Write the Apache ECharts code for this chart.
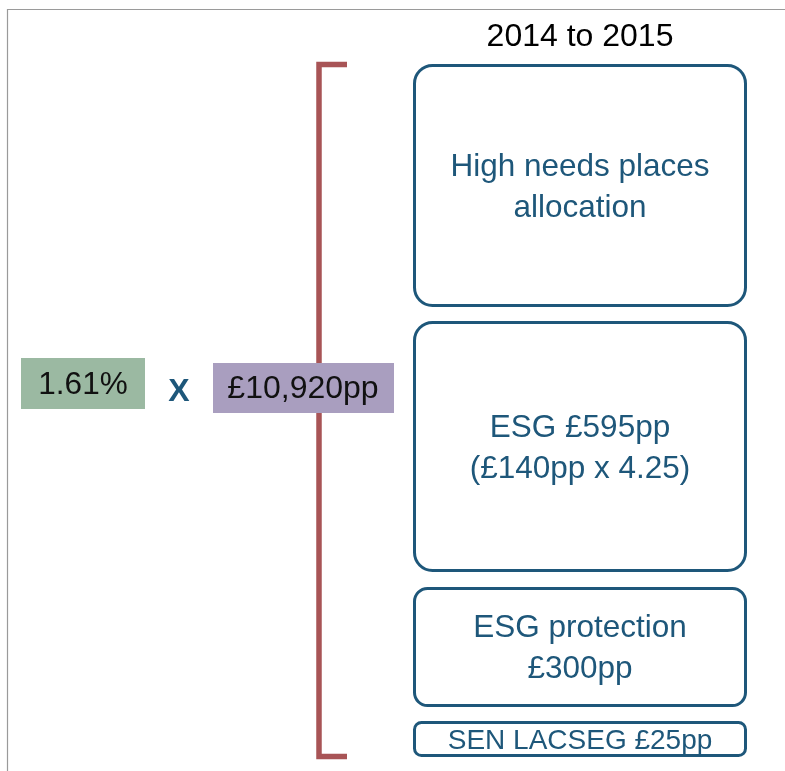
<!DOCTYPE html>
<html>
<head>
<meta charset="utf-8">
<script src="https://cdn.jsdelivr.net/npm/echarts@6/dist/echarts.min.js"></script>
<style>
  html, body { margin: 0; padding: 0; background: #fff; }
  #chart { width: 785px; height: 771px; }
</style>
</head>
<body>
<div id="chart"></div>
<script>
// content
const title = "2014 to 2015";
const rate = "1.61%";
const perPupil = "£10,920pp";
const boxLabels = [
  "High needs places\nallocation",
  "ESG £595pp\n(£140pp x 4.25)",
  "ESG protection\n£300pp",
  "SEN LACSEG £25pp"
];

// layout (pixels)
const boxTops = [64, 321, 587, 721];
const boxBottoms = [307, 572, 707, 757];
const boxRadius = [18, 18, 13, 7];
const boxFont = [31.5, 31.5, 31.5, 28];

const FONT = "'Liberation Sans', Arial, sans-serif";
const BLUE = "#1e577a";
const RED = "#a85456";

const myChart = echarts.init(document.getElementById("chart"), null, { renderer: "canvas" });

function build() {
  const g = [];

  // outer frame (top and left only)
  g.push({
    type: "polyline",
    shape: { points: [[7.5, 771], [7.5, 9.5], [785, 9.5]] },
    style: { stroke: "#9a9a9a", lineWidth: 1.2, fill: null }
  });

  // bracket
  g.push({
    type: "polyline",
    shape: { points: [[347, 64.5], [319, 64.5], [319, 756.5], [347, 756.5]] },
    style: { stroke: RED, lineWidth: 5.5, fill: null, lineJoin: "miter" }
  });

  // title
  g.push({
    type: "text",
    style: {
      text: title, x: 580, y: 37, align: "center", verticalAlign: "middle",
      fontSize: 32, fontFamily: FONT, fill: "#000"
    }
  });

  // boxes
  boxLabels.forEach(function (label, i) {
    const top = boxTops[i], bottom = boxBottoms[i];
    g.push({
      type: "rect",
      shape: { x: 414.5, y: top + 1.5, width: 331, height: bottom - top - 3, r: boxRadius[i] },
      style: { fill: "#fff", stroke: BLUE, lineWidth: 3 }
    });
    g.push({
      type: "text",
      style: {
        text: label, x: 580, y: (top + bottom) / 2 + 2, align: "center", verticalAlign: "middle",
        fontSize: boxFont[i], fontFamily: FONT, fill: BLUE, lineHeight: 41
      }
    });
  });

  // rate box
  g.push({
    type: "rect",
    shape: { x: 21, y: 358, width: 124, height: 51 },
    style: { fill: "#9bb9a2" }
  });
  g.push({
    type: "text",
    style: {
      text: rate, x: 83, y: 385, align: "center", verticalAlign: "middle",
      fontSize: 31.5, fontFamily: FONT, fill: "#111"
    }
  });

  // multiply sign
  g.push({
    type: "text",
    style: {
      text: "X", x: 179, y: 392, align: "center", verticalAlign: "middle",
      fontSize: 32, fontWeight: "bold", fontFamily: FONT, fill: BLUE
    }
  });

  // per pupil box
  g.push({
    type: "rect",
    shape: { x: 213, y: 363, width: 181, height: 50 },
    style: { fill: "#a99ebf" }
  });
  g.push({
    type: "text",
    style: {
      text: perPupil, x: 303, y: 389, align: "center", verticalAlign: "middle",
      fontSize: 32, fontFamily: FONT, fill: "#111"
    }
  });

  return g;
}

myChart.setOption({
  backgroundColor: "#fff",
  animation: false,
  graphic: build()
});
</script>
</body>
</html>
